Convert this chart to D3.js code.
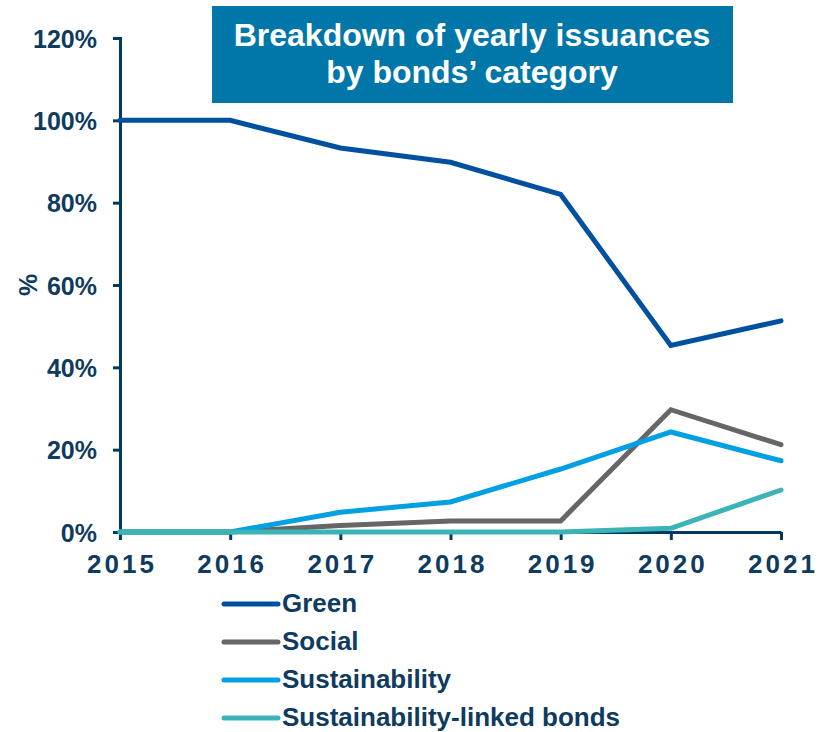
<!DOCTYPE html>
<html>
<head>
<meta charset="utf-8">
<script src="https://cdn.jsdelivr.net/npm/d3@7"></script>
<style>
  body { margin: 0; background: #fff; }
  text { font-family: Arial, "Liberation Sans", sans-serif; font-weight: bold; }
</style>
</head>
<body>
<div id="chart"></div>
<script>
// chart data
const years = ["2015", "2016", "2017", "2018", "2019", "2020", "2021"];
const green = [100, 100, 93.3, 89.8, 82.0, 45.3, 51.3];
const social = [0, 0, 1.6, 2.7, 2.7, 29.7, 21.2];
const sustainability = [0, 0, 4.8, 7.3, 15.3, 24.3, 17.3];
const slb = [0, 0, 0, 0, 0, 0.9, 10.2];
const yTicks = [0, 20, 40, 60, 80, 100, 120];
const seriesNames = ["Green", "Social", "Sustainability", "Sustainability-linked bonds"];
const seriesColors = ["#0050a0", "#666666", "#00a0e3", "#3bb3b7"];

const width = 824;
const height = 732;
const margin = {left: 120, right: 43, top: 38, bottom: 200};
const axisColor = "#003a63";
const textColor = "#0f3b5f";

const svg = d3.select("#chart")
  .append("svg")
  .attr("width", width)
  .attr("height", height);

let xScale = d3.scalePoint()
  .domain(years)
  .range([margin.left, width - margin.right]);

let yScale = d3.scaleLinear()
  .domain([0, 120])
  .range([height - margin.bottom, margin.top]);

// y axis
const yAxis = svg.append("g")
  .attr("transform", `translate(${margin.left},0)`)
  .call(d3.axisLeft(yScale).tickValues(yTicks).tickFormat(d => d + "%").tickSize(7).tickPadding(16));
yAxis.select(".domain").attr("stroke", axisColor).attr("stroke-width", 3);
yAxis.selectAll(".tick line").attr("stroke", axisColor).attr("stroke-width", 3);
yAxis.selectAll(".tick text")
  .attr("fill", textColor)
  .attr("font-size", "25px")
  .attr("dy", "0.36em")
  .attr("font-family", "Arial, 'Liberation Sans', sans-serif")
  .attr("font-weight", "bold");

// x axis
const xAxis = svg.append("g")
  .attr("transform", `translate(0,${height - margin.bottom})`)
  .call(d3.axisBottom(xScale).tickSize(8).tickPadding(10).tickSizeOuter(0));
xAxis.select(".domain").attr("stroke", axisColor).attr("stroke-width", 3);
xAxis.selectAll(".tick line").attr("stroke", axisColor).attr("stroke-width", 3);
xAxis.selectAll(".tick text")
  .attr("fill", textColor)
  .attr("font-size", "26px")
  .attr("letter-spacing", "3px")
  .attr("dx", "1.5px")
  .attr("y", 41)
  .attr("dy", 0)
  .attr("font-family", "Arial, 'Liberation Sans', sans-serif")
  .attr("font-weight", "bold");

// y label
svg.append("text")
  .attr("transform", `translate(37,${yScale(60)}) rotate(-90)`)
  .attr("text-anchor", "middle")
  .attr("fill", textColor)
  .attr("font-size", "25px")
  .text("%");

// lines
const allSeries = [green, social, sustainability, slb];
const line = d3.line()
  .x((d, i) => xScale(years[i]))
  .y(d => yScale(d));

svg.selectAll(".series")
  .data(allSeries)
  .enter()
  .append("path")
    .attr("class", "series")
    .attr("d", d => line(d))
    .attr("fill", "none")
    .attr("stroke", (d, i) => seriesColors[i])
    .attr("stroke-width", 5)
    .attr("stroke-linejoin", "miter")
    .attr("stroke-linecap", "round");

// title box
svg.append("rect")
  .attr("x", 212)
  .attr("y", 6)
  .attr("width", 521)
  .attr("height", 97)
  .attr("fill", "#0077a8");

svg.append("text")
  .attr("x", 472)
  .attr("y", 46)
  .attr("text-anchor", "middle")
  .attr("fill", "#fff")
  .attr("font-size", "32px")
  .text("Breakdown of yearly issuances");

svg.append("text")
  .attr("x", 472)
  .attr("y", 83)
  .attr("text-anchor", "middle")
  .attr("fill", "#fff")
  .attr("font-size", "32px")
  .text("by bonds\u2019 category");

// legend
const legend = svg.selectAll(".legend")
  .data(seriesNames)
  .enter()
  .append("g")
    .attr("class", "legend")
    .attr("transform", (d, i) => `translate(224,${604 + i * 38})`);

legend.append("line")
  .attr("x1", 0)
  .attr("x2", 54)
  .attr("stroke", (d, i) => seriesColors[i])
  .attr("stroke-width", 5)
  .attr("stroke-linecap", "round");

legend.append("text")
  .attr("x", 58)
  .attr("y", 8)
  .attr("fill", textColor)
  .attr("font-size", "26px")
  .text(d => d);
</script>
</body>
</html>
